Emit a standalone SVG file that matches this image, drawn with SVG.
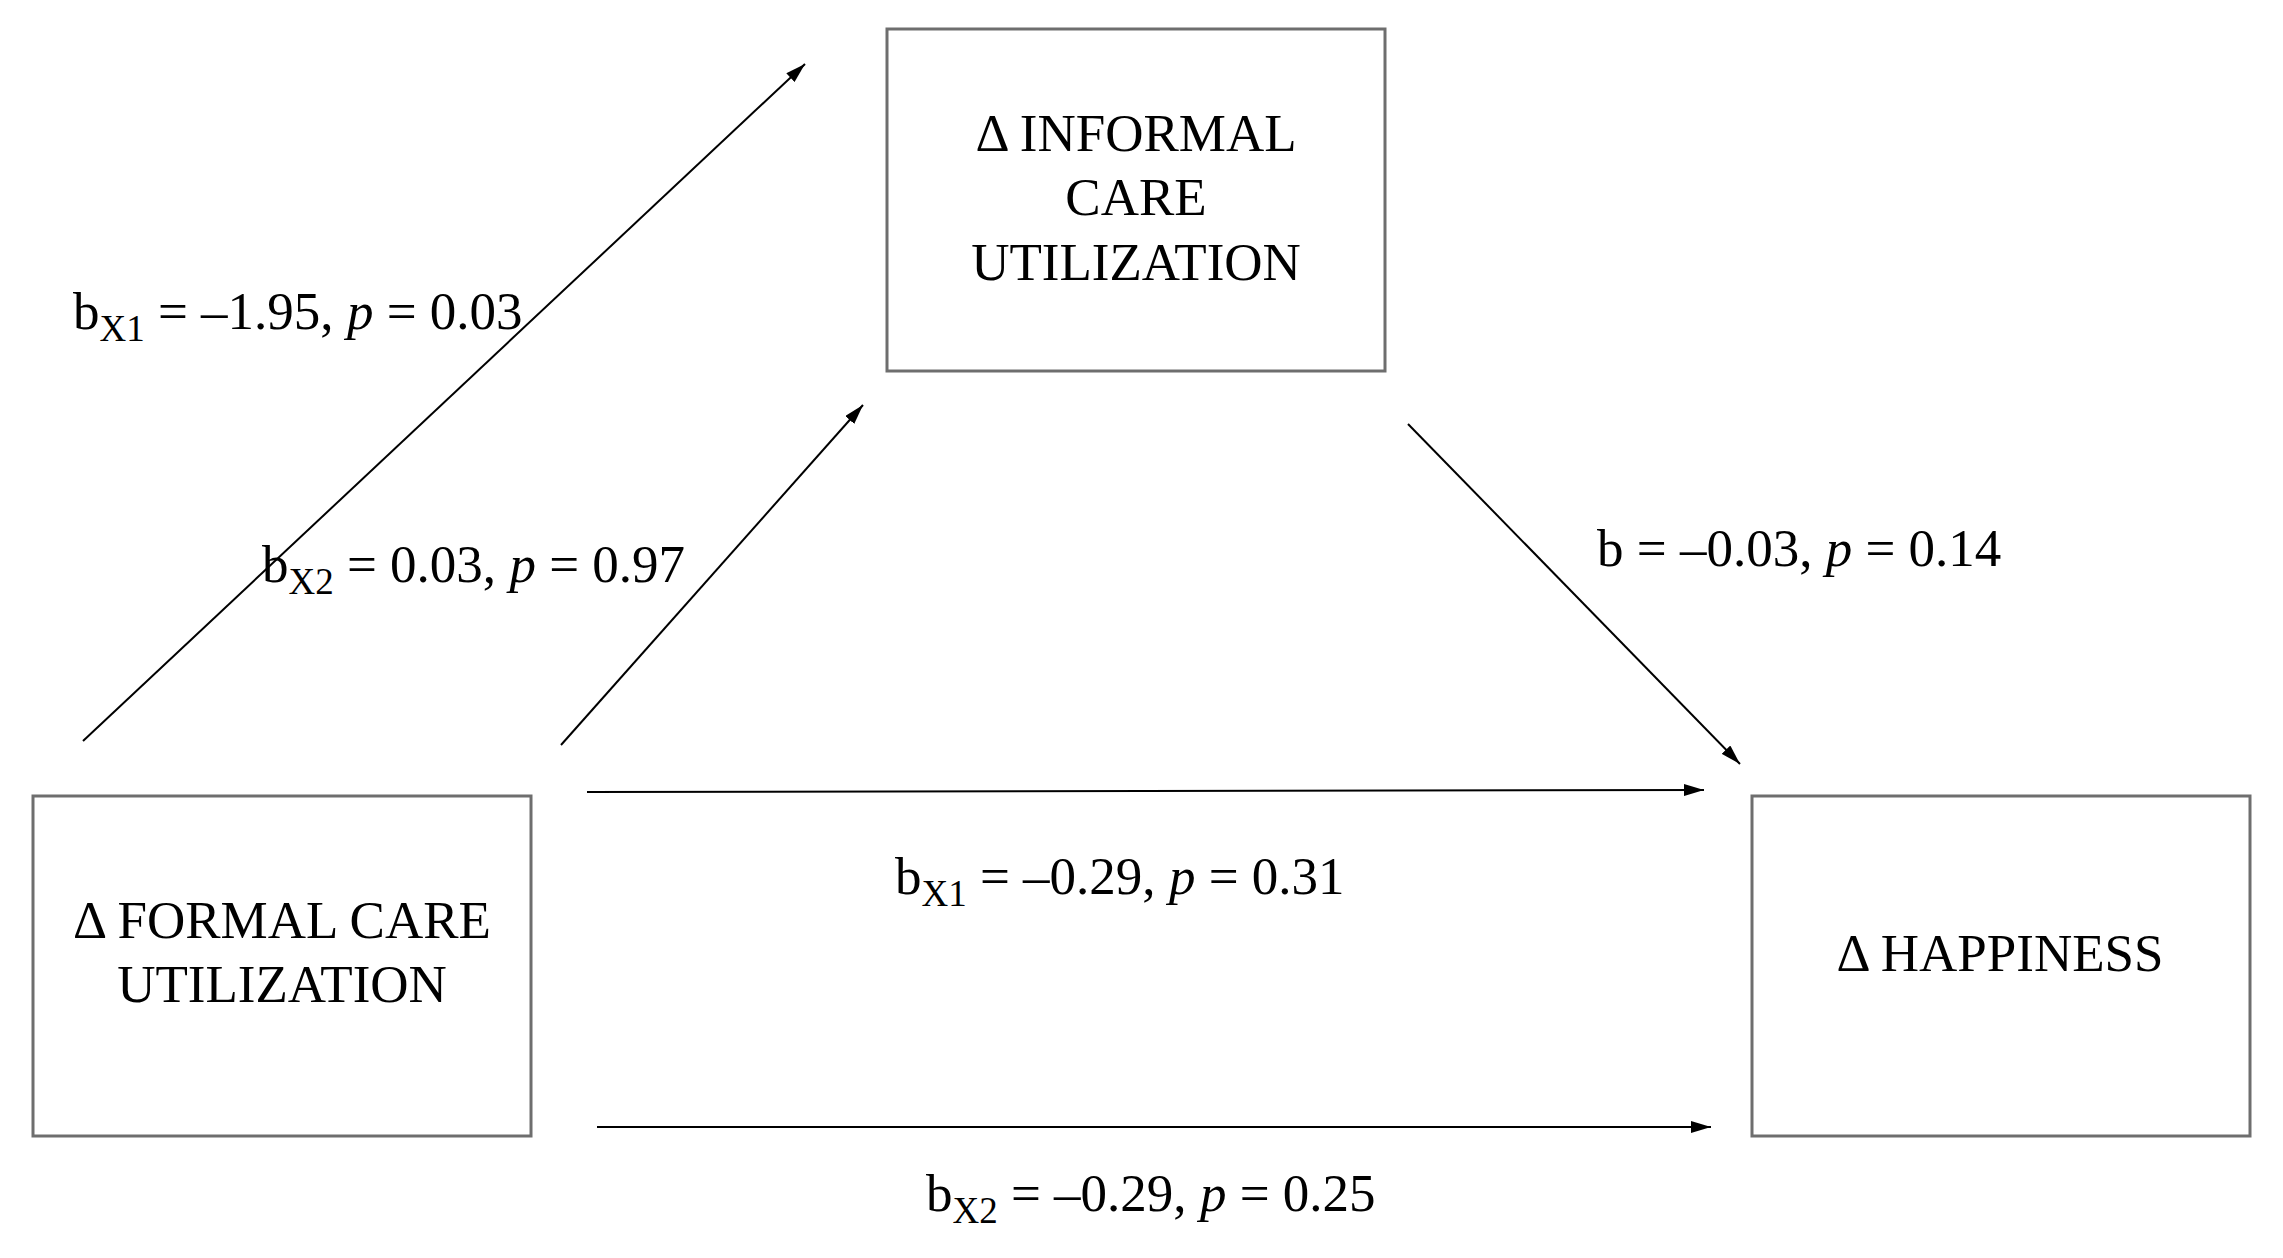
<svg xmlns="http://www.w3.org/2000/svg" width="2283" height="1258" viewBox="0 0 2283 1258">
<style>
text{font-family:"Liberation Serif","Times New Roman",serif;font-size:53px;fill:#000}
.c{text-anchor:middle}
.s{font-size:37px}
.box{fill:#fff;stroke:#6e6e6e;stroke-width:3}
.ln{stroke:#000;stroke-width:2;fill:none;marker-end:url(#ah)}
</style>
<defs><marker id="ah" viewBox="0 0 20 12" refX="20" refY="6" markerWidth="20" markerHeight="12" markerUnits="userSpaceOnUse" orient="auto"><path d="M0,0 L20,6 L0,12 Z" fill="#000"/></marker></defs>
<rect width="2283" height="1258" fill="#fff"/>
<g id="connectors">
<line class="ln" x1="83" y1="741" x2="805" y2="64"/>
<line class="ln" x1="561" y1="745" x2="863" y2="405"/>
<line class="ln" x1="1408" y1="424" x2="1740" y2="764"/>
<line class="ln" x1="587" y1="792" x2="1704" y2="790"/>
<line class="ln" x1="597" y1="1127" x2="1711" y2="1127"/>
</g>
<g id="informal"><rect class="box" x="887" y="29" width="498" height="342"/>
<text class="c" x="1136" y="151">Δ INFORMAL</text><text class="c" x="1136" y="215">CARE</text><text class="c" x="1136" y="280">UTILIZATION</text></g>
<g id="formal"><rect class="box" x="33" y="796" width="498" height="340"/>
<text class="c" x="282" y="938">Δ FORMAL CARE</text><text class="c" x="282" y="1002">UTILIZATION</text></g>
<g id="happiness"><rect class="box" x="1752" y="796" width="498" height="340"/>
<text class="c" x="2000" y="971">Δ HAPPINESS</text></g>
<g id="labels">
<text x="73" y="329">b<tspan class="s" dy="12">X1</tspan><tspan dy="-12"> = –1.95, </tspan><tspan font-style="italic">p</tspan> = 0.03</text>
<text x="262" y="582">b<tspan class="s" dy="12">X2</tspan><tspan dy="-12"> = 0.03, </tspan><tspan font-style="italic">p</tspan> = 0.97</text>
<text x="1597" y="566">b = –0.03, <tspan font-style="italic">p</tspan> = 0.14</text>
<text x="895" y="894">b<tspan class="s" dy="12">X1</tspan><tspan dy="-12"> = –0.29, </tspan><tspan font-style="italic">p</tspan> = 0.31</text>
<text x="926" y="1211">b<tspan class="s" dy="12">X2</tspan><tspan dy="-12"> = –0.29, </tspan><tspan font-style="italic">p</tspan> = 0.25</text>
</g>
</svg>
